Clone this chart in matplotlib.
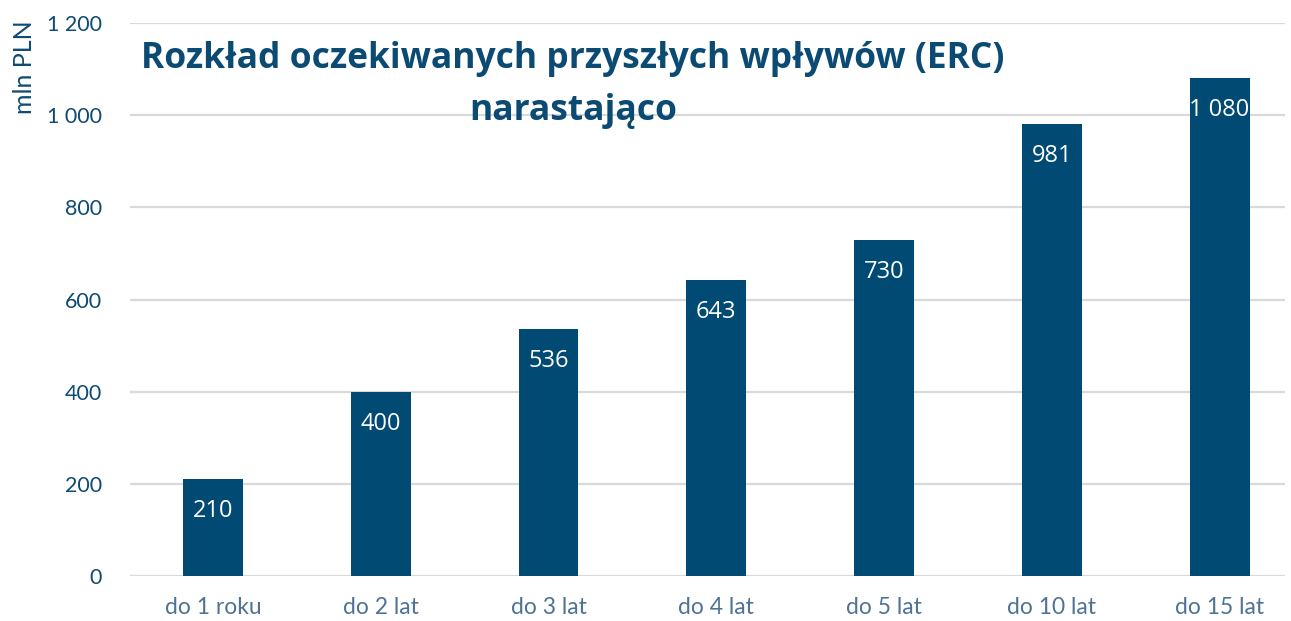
import matplotlib
matplotlib.use("Agg")
import matplotlib.pyplot as plt

categories = ["do 1 roku", "do 2 lat", "do 3 lat", "do 4 lat", "do 5 lat", "do 10 lat", "do 15 lat"]
values = [210, 400, 536, 643, 730, 981, 1080]
y_ticks = [0, 200, 400, 600, 800, 1000, 1200]
y_tick_labels = ["0", "200", "400", "600", "800", "1 000", "1 200"]
title_text = "Rozkład oczekiwanych przyszłych wpływów (ERC)\nnarastająco"
ylabel_text = "mln PLN"

bar_color = "#004A74"
dark = "#0E4A72"
light = "#4F7396"

fig = plt.figure(figsize=(12.91, 6.21), dpi=100)
ax = fig.add_axes([130/1291, 1 - 576/621, (1285-130)/1291, (576-23)/621])

x = list(range(len(categories)))
bars = ax.bar(x, values, width=0.357, color=bar_color, zorder=3)

ax.set_xlim(-0.495, 6.39)
ax.set_ylim(0, 1200)
ax.set_yticks(y_ticks)
ax.set_yticklabels(y_tick_labels, fontfamily="Lato", fontsize=15.5, color=dark)
ax.set_xticks(x)
ax.set_xticklabels(categories, fontfamily="Lato", fontsize=16.5, color=light)
ax.tick_params(axis="both", length=0)
ax.tick_params(axis="y", pad=20)
ax.tick_params(axis="x", pad=15)

ax.grid(axis="y", color="#D9D9D9", linewidth=1.6, zorder=0)
for s in ax.spines.values():
    s.set_visible(False)

for xi, v in zip(x, values):
    lbl = f"{v:,}".replace(",", " ")
    ax.annotate(lbl, (xi, v), xytext=(0, -23), textcoords="offset points",
                ha="center", va="center", color="white", fontsize=17,
                fontfamily="Open Sans", zorder=4)

fig.text(25/1291, 1 - 67/621, ylabel_text, rotation=90, ha="center", va="center",
         fontfamily="Lato", fontsize=18, color=dark)

fig.text(573/1291, 1 - 85/621, title_text, ha="center", va="center",
         fontfamily="Open Sans", fontweight="bold", fontsize=25.5, color="#0B4A72",
         linespacing=1.6)

fig.savefig("out.png", dpi=100)
